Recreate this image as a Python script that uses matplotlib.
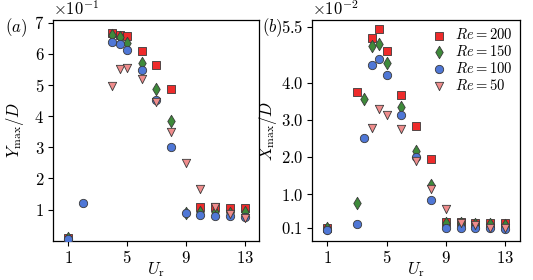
import matplotlib
matplotlib.use("Agg")
import matplotlib.pyplot as plt

plt.rcParams['mathtext.fontset'] = 'cm'
plt.rcParams['font.family'] = 'serif'
plt.rcParams['font.serif'] = ['DejaVu Serif']

# ---- panel (a): Y_max/D (x1e-1) ----
ur_a200 = [1, 4, 4.5, 5, 6, 7, 8, 10, 11, 12, 13]
ya_200 = [0.1, 6.66, 6.62, 6.57, 6.10, 5.63, 4.89, 1.08, 1.08, 1.05, 1.05]
ur_a150 = [1, 4, 4.5, 5, 6, 7, 8, 9, 10, 11, 12, 13]
ya_150 = [0.1, 6.62, 6.55, 6.36, 5.72, 4.87, 3.84, 0.9, 0.92, 0.92, 0.9, 0.92]
ur_a100 = [1, 2, 4, 4.5, 5, 6, 7, 8, 9, 10, 11, 12, 13]
ya_100 = [0.04, 1.22, 6.37, 6.32, 6.12, 5.47, 4.51, 3.02, 0.90, 0.84, 0.80, 0.78, 0.77]
ur_a50 = [4, 4.5, 5, 6, 7, 8, 9, 10, 11, 12, 13]
ya_50 = [4.96, 5.53, 5.56, 5.18, 4.45, 3.50, 2.51, 1.66, 1.08, 0.85, 0.74]

# ---- panel (b): X_max/D (x1e-2) ----
ur_b200 = [1, 3, 4, 4.5, 5, 6, 7, 8, 9, 10, 11, 12, 13]
xb_200 = [0.1, 3.75, 5.19, 5.43, 4.85, 3.66, 2.82, 1.95, 0.26, 0.26, 0.22, 0.22, 0.22]
ur_b150 = [1, 3, 3.5, 4, 4.5, 5, 6, 7, 8, 9, 10, 11, 12, 13]
xb_150 = [0.1, 0.77, 3.55, 4.99, 5.03, 4.52, 3.33, 2.16, 1.26, 0.23, 0.23, 0.2, 0.2, 0.18]
ur_b100 = [1, 3, 3.5, 4, 4.5, 5, 6, 7, 8, 9, 10, 11, 12, 13]
xb_100 = [0.04, 0.21, 2.50, 4.46, 4.62, 4.19, 3.14, 2.0, 0.84, 0.1, 0.09, 0.08, 0.08, 0.07]
ur_b50 = [4, 4.5, 5, 6, 7, 8, 9, 10, 11, 12, 13]
xb_50 = [2.77, 3.29, 3.14, 2.74, 1.89, 1.15, 0.60, 0.22, 0.16, 0.1, 0.08]

labels = ['$Re=200$', '$Re=150$', '$Re=100$', '$Re=50$']
colors = ['#ee2b2b', '#3e8a3a', '#4f77d6', '#ef8c8c']
markers = ['s', 'd', 'o', 'v']
sizes = [34, 40, 36, 36]

xticks = [1, 5, 9, 13]
yticks_a = [1, 2, 3, 4, 5, 6, 7]
yticks_b = [0.1, 1.0, 2.0, 3.0, 4.0, 5.5]

fig = plt.figure(figsize=(5.33, 2.8), dpi=100)
ax1 = fig.add_axes([0.1, 0.1404, 0.3865, 0.788])
ax2 = fig.add_axes([0.5860, 0.1404, 0.3896, 0.788])

data_a = [(ur_a200, ya_200), (ur_a150, ya_150), (ur_a100, ya_100), (ur_a50, ya_50)]
data_b = [(ur_b200, xb_200), (ur_b150, xb_150), (ur_b100, xb_100), (ur_b50, xb_50)]

for (x, y), c, m, s, l in zip(data_a, colors, markers, sizes, labels):
    ax1.scatter(x, y, s=s, c=c, marker=m, edgecolors='#3a3a3a', linewidths=0.6, label=l, zorder=3)
for (x, y), c, m, s, l in zip(data_b, colors, markers, sizes, labels):
    ax2.scatter(x, y, s=s, c=c, marker=m, edgecolors='#3a3a3a', linewidths=0.6, label=l, zorder=3)

fs = 12
for ax in (ax1, ax2):
    ax.set_xlim(0, 14)
    ax.set_xticks(xticks)
    ax.set_xticklabels([f'${v}$' for v in xticks], fontsize=fs)
    ax.set_xlabel(r'$U_{\rm r}$', fontsize=fs, labelpad=-4.5)
    ax.tick_params(direction='out', length=3.5, width=0.8, pad=3)
    for sp in ax.spines.values():
        sp.set_linewidth(0.9)

ax1.set_ylim(0, 7.09)
ax1.set_yticks(yticks_a)
ax1.set_yticklabels([f'${v}$' for v in yticks_a], fontsize=fs)
ax1.set_ylabel(r'$Y_{\max}/D$', fontsize=fs, labelpad=6)
ax1.text(0.0, 1.005, r'$\times10^{-1}$', transform=ax1.transAxes, fontsize=fs, ha='left', va='bottom')
fig.text(0.031, 0.902, r'$(a)$', fontsize=fs, ha='center', va='center')

ax2.set_ylim(-0.25, 5.68)
ax2.set_yticks(yticks_b)
ax2.set_yticklabels([f'${v:.1f}$' for v in yticks_b], fontsize=fs)
ax2.set_ylabel(r'$X_{\max}/D$', fontsize=fs, labelpad=1)
ax2.text(0.0, 1.005, r'$\times10^{-2}$', transform=ax2.transAxes, fontsize=fs, ha='left', va='bottom')
fig.text(0.530, 0.90, r'$(b)$', fontsize=fs, ha='right', va='center')

ax2.legend(loc='upper right', frameon=False, fontsize=10.5, handletextpad=0.6,
           labelspacing=0.12, borderaxespad=0.2, handlelength=1.0, borderpad=0.3)

fig.savefig('out.png', dpi=100)
